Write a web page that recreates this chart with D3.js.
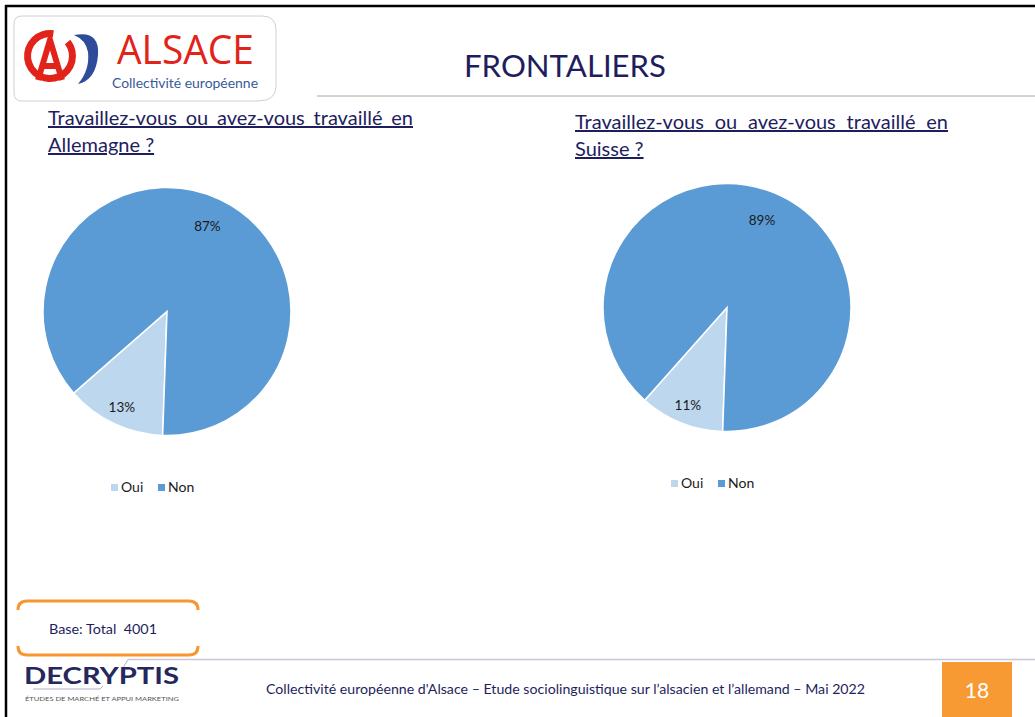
<!DOCTYPE html>
<html>
<head>
<meta charset="utf-8">
<script src="https://cdn.jsdelivr.net/npm/d3@7"></script>
<style>
  body { margin: 0; background: #fff; }
  svg { display: block; font-family: Lato, "Open Sans", sans-serif; }
  .pre { white-space: pre; }
</style>
</head>
<body>
<svg width="1035" height="717"></svg>
<script>
// ---- data ----
var categories = ["Oui", "Non"];
var allemagne = [13, 87];
var suisse = [11, 89];
var colors = ["#BDD7EE", "#5B9BD5"];

var pageTitle = "FRONTALIERS";
var questions = [
  ["Travaillez-vous ou avez-vous travaillé en", "Allemagne ?"],
  ["Travaillez-vous ou avez-vous travaillé en", "Suisse ?"]
];
var baseText = "Base: Total  4001";
var footerText = "Collectivité européenne d'Alsace – Etude sociolinguistique sur l’alsacien et l’allemand – Mai 2022";
var pageNum = "18";

var navy = "#1E1E5E";
var svg = d3.select("svg");

// ---- frame ----
svg.append("line").attr("x1", 5).attr("x2", 1035).attr("y1", 6).attr("y2", 6)
  .attr("stroke", "#000").attr("stroke-width", 2.5);
svg.append("line").attr("x1", 6).attr("x2", 6).attr("y1", 5).attr("y2", 717)
  .attr("stroke", "#000").attr("stroke-width", 2.5);
svg.append("line").attr("x1", 317).attr("x2", 1035).attr("y1", 96).attr("y2", 96)
  .attr("stroke", "#a6a6a6").attr("stroke-width", 1);

// ---- Alsace logo ----
var logo = svg.append("g");
logo.append("path")
  .attr("d", "M22,16 H262 Q276,16 276,30 V86 Q276,101 258,101 H22 Q14,101 14,93 V24 Q14,16 22,16 Z")
  .attr("fill", "#fff").attr("stroke", "#d0d0d0");
logo.append("path")
  .attr("d", d3.arc()({innerRadius: 19, outerRadius: 26, startAngle: 0.55, endAngle: 2 * Math.PI - 0.2}))
  .attr("transform", "translate(50,56) rotate(20)")
  .attr("fill", "#E2231A");
logo.append("path")
  .attr("d", "M38,80 L50,40 L62,80 M43,66 H57")
  .attr("fill", "none").attr("stroke", "#E2231A").attr("stroke-width", 6);
logo.append("path")
  .attr("d", "M74,35 Q100,30 98,55 Q96,80 78,84 Q90,70 88,52 Q86,40 74,35 Z")
  .attr("fill", "#2E4C9A");
logo.append("text").attr("x", 117).attr("y", 64)
  .attr("font-size", 41).attr("fill", "#E2231A").attr("textLength", 137)
  .attr("lengthAdjust", "spacingAndGlyphs")
  .attr("font-family", "'Open Sans', sans-serif")
  .text("ALSACE");
logo.append("text").attr("x", 112).attr("y", 88)
  .attr("font-size", 12.5).attr("fill", "#3A5A9A").attr("textLength", 146)
  .attr("lengthAdjust", "spacingAndGlyphs")
  .text("Collectivité européenne");

// ---- title ----
svg.append("text").attr("x", 464).attr("y", 77)
  .attr("font-size", 30).attr("fill", navy).attr("textLength", 202)
  .attr("lengthAdjust", "spacingAndGlyphs")
  .text(pageTitle);

// ---- pies ----
var charts = [
  {values: allemagne, cx: 167, cy: 311.5, qx: 48, qy: 125, qw: 365, lx: 111, ly: 492},
  {values: suisse, cx: 727, cy: 307.5, qx: 575, qy: 129, qw: 373, lx: 671, ly: 488}
];
var radius = 124;
var rot = 182 * Math.PI / 180;

var pie = d3.pie().sort(null)
  .startAngle(rot).endAngle(rot + 2 * Math.PI);
var arc = d3.arc().innerRadius(0).outerRadius(radius);
var labelArc = [
  d3.arc().innerRadius(radius * 0.85).outerRadius(radius * 0.85),
  d3.arc().innerRadius(radius * 0.76).outerRadius(radius * 0.76)
];

charts.forEach(function(c, ci) {
  // question, justified by widening the word gaps
  var q = svg.append("g").attr("fill", navy).attr("font-size", 20);
  var l1 = q.append("text").attr("x", c.qx).attr("y", c.qy)
    .attr("text-decoration", "underline")
    .text(questions[ci][0]);
  var nat = l1.node().getComputedTextLength();
  var gaps = questions[ci][0].split(" ").length - 1;
  l1.attr("word-spacing", (c.qw - nat) / gaps);
  q.append("text").attr("x", c.qx).attr("y", c.qy + 27)
    .attr("text-decoration", "underline")
    .text(questions[ci][1]);

  var data = pie(c.values);
  var g = svg.append("g").attr("transform", "translate(" + c.cx + "," + c.cy + ")");
  g.selectAll("path").data(data).enter().append("path")
    .attr("d", arc)
    .attr("fill", function(d, i) { return colors[i]; })
    .attr("stroke", "#fff").attr("stroke-width", 1.5);
  g.selectAll("text").data(data).enter().append("text")
    .attr("transform", function(d, i) {
      var p = labelArc[i].centroid(d);
      return "translate(" + p[0] + "," + (p[1] + 5) + ")";
    })
    .attr("text-anchor", "middle").attr("font-size", 13.5).attr("fill", "#1a1a1a")
    .text(function(d) { return d.data + "%"; });

  // legend
  var leg = svg.append("g").attr("transform", "translate(" + c.lx + "," + c.ly + ")");
  var item = leg.selectAll("g").data(categories).enter().append("g")
    .attr("transform", function(d, i) { return "translate(" + (i * 47) + ",0)"; });
  item.append("rect").attr("x", 0).attr("y", -8).attr("width", 7).attr("height", 7)
    .attr("fill", function(d, i) { return colors[i]; });
  item.append("text").attr("x", 10).attr("y", 0)
    .attr("font-size", 14).attr("fill", "#1a1a1a")
    .text(function(d) { return d; });
});

// ---- base box ----
svg.append("path")
  .attr("d", "M18,610 Q18,601 27,601 H189 Q198,601 198,610")
  .attr("fill", "none").attr("stroke", "#F7962F").attr("stroke-width", 3);
svg.append("path")
  .attr("d", "M18,646 Q18,655 27,655 H189 Q198,655 198,646")
  .attr("fill", "none").attr("stroke", "#F7962F").attr("stroke-width", 3);
svg.append("text").attr("class", "pre").attr("x", 49).attr("y", 634).attr("font-size", 14)
  .attr("fill", navy).attr("textLength", 108).attr("lengthAdjust", "spacingAndGlyphs")
  .text(baseText);

// ---- footer ----
svg.append("line").attr("x1", 128).attr("x2", 1035).attr("y1", 659.5).attr("y2", 659.5)
  .attr("stroke", "#c8c8d8").attr("stroke-width", 1.5);
svg.append("path").attr("d", "M128,659.5 L123,668 M33,689 H100 L103,686")
  .attr("fill", "none").attr("stroke", "#b0b0c0").attr("stroke-width", 1);
svg.append("text").attr("x", 24).attr("y", 684).attr("font-size", 23)
  .attr("font-weight", "bold").attr("fill", "#24285C").attr("textLength", 155)
  .attr("lengthAdjust", "spacingAndGlyphs")
  .text("DECRYPTIS");
svg.append("text").attr("x", 25).attr("y", 701).attr("font-size", 6.5)
  .attr("fill", "#555").attr("textLength", 154)
  .attr("lengthAdjust", "spacingAndGlyphs")
  .text("ÉTUDES DE MARCHÉ ET APPUI MARKETING");
svg.append("text").attr("x", 266).attr("y", 694).attr("font-size", 13)
  .attr("fill", navy).attr("textLength", 599).attr("lengthAdjust", "spacingAndGlyphs")
  .text(footerText);
svg.append("rect").attr("x", 942).attr("y", 662).attr("width", 70).attr("height", 55)
  .attr("fill", "#F79A33");
svg.append("text").attr("x", 977).attr("y", 698).attr("text-anchor", "middle")
  .attr("font-size", 21).attr("fill", "#fff").text(pageNum);
</script>
</body>
</html>
